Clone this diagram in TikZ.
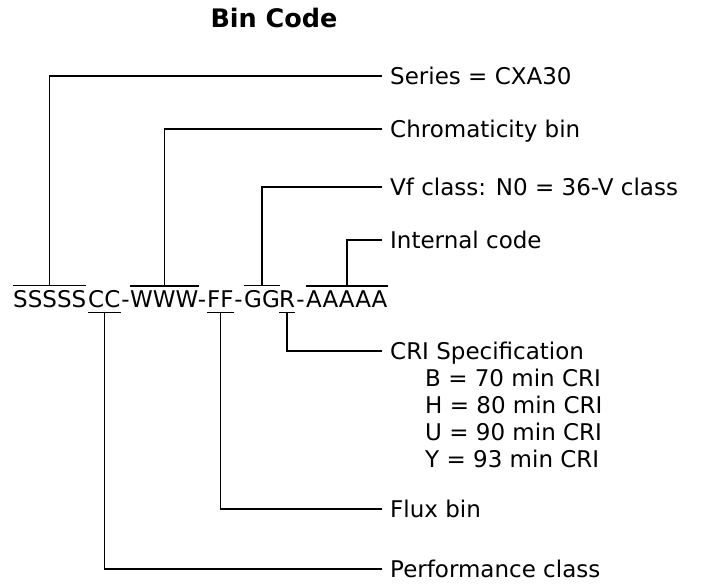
\documentclass[tikz,border=0pt]{standalone}
\usepackage{fontspec}
\setmainfont{DejaVu Sans}
\begin{document}
\begin{tikzpicture}[x=1pt,y=-1pt,
  txt/.style={font=\fontsize{23pt}{27pt}\selectfont, inner sep=0pt},
  code/.style={txt, anchor=base west},
  lab/.style={txt, anchor=base west},
  bar/.style={line width=1.4pt},
  conn/.style={line width=1.4pt, shorten >=8pt}]
\useasboundingbox (0,0) rectangle (702,584);
% title
\node[font=\fontsize{25.5pt}{30pt}\selectfont\bfseries, inner sep=0pt, anchor=base] (title) at (274,27) {Bin Code};
% code string
\node[code] (s) at (13,307) {SSSSS};
\node[code] (c) at (88,307) {CC};
\node[txt, anchor=base] (h1) at (125.5,307) {-};
\node[code] (w) at (130,307) {WWW};
\node[txt, anchor=base] (h2) at (202,307) {-};
\node[code] (f) at (207,307) {FF};
\node[txt, anchor=base] (h3) at (238.5,307) {-};
\node[code] (g) at (244,307) {GG};
\node[code] (r) at (279,307) {R};
\node[txt, anchor=base] (h4) at (300.5,307) {-};
\node[code] (a) at (306,307) {AAAAA};
% labels
\node[lab] (series) at (390,84) {Series = CXA30};
\node[lab] (chrom) at (390,137) {Chromaticity bin};
\node[lab] (vf) at (390,195) {Vf class: N0 = 36-V class};
\node[lab] (internal) at (390,248) {Internal code};
\node[lab] (cri) at (390,359) {CRI Specification};
\node[lab] (crib) at (425,386) {B = 70 min CRI};
\node[lab] (crih) at (425,413) {H = 80 min CRI};
\node[lab] (criu) at (425,440) {U = 90 min CRI};
\node[lab] (criy) at (425,467) {Y = 93 min CRI};
\node[lab] (flux) at (390,517) {Flux bin};
\node[lab] (perf) at (390,577) {Performance class};
% overlines
\foreach \n in {s,w,g,a}{
  \draw[bar] ([yshift=4pt]\n.north west) -- ([yshift=4pt]\n.north east);
}
% underlines
\foreach \n in {c,f,r}{
  \draw[bar] ([yshift=-5pt]\n.south west) -- ([yshift=-5pt]\n.south east);
}
% connectors above
\draw[conn] ([yshift=4pt]s.north) |- ([yshift=8pt]series.base west);
\draw[conn] ([yshift=4pt]w.north) |- ([yshift=8pt]chrom.base west);
\draw[conn] ([yshift=4pt]g.north) |- ([yshift=8pt]vf.base west);
\draw[conn] ([yshift=4pt]a.north) |- ([yshift=8pt]internal.base west);
% connectors below
\draw[conn] ([yshift=-5pt]r.south) |- ([yshift=8pt]cri.base west);
\draw[conn] ([yshift=-5pt]f.south) |- ([yshift=8pt]flux.base west);
\draw[conn] ([yshift=-5pt]c.south) |- ([yshift=8pt]perf.base west);
\end{tikzpicture}
\end{document}
